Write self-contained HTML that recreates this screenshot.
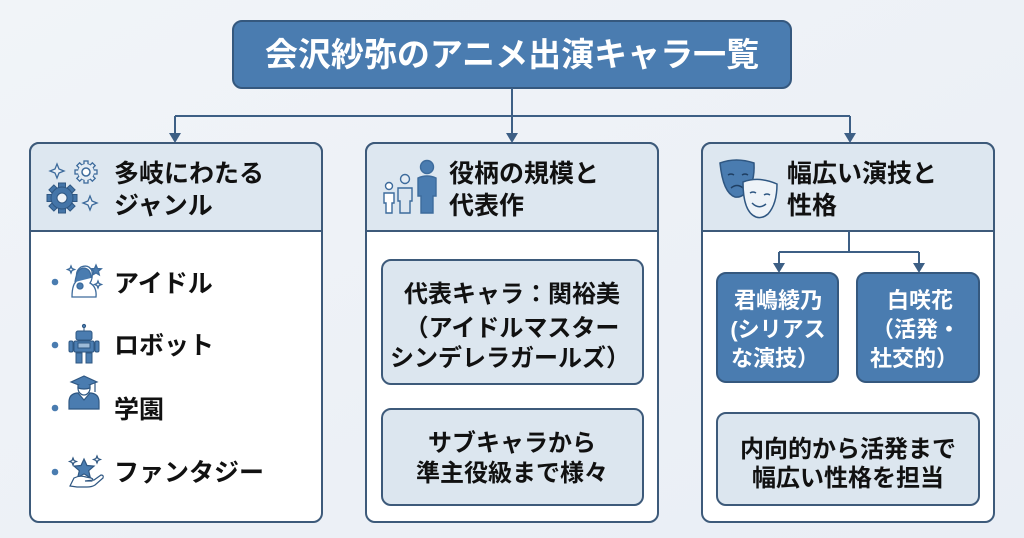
<!DOCTYPE html>
<html><head><meta charset="utf-8">
<style>
html,body{margin:0;padding:0;}
body{width:1024px;height:538px;overflow:hidden;background:#eef2f7;}
svg{display:block;}
text{font-family:"Liberation Sans","Noto Sans CJK JP",sans-serif;}
</style></head>
<body>
<svg width="1024" height="538" viewBox="0 0 1024 538" xmlns="http://www.w3.org/2000/svg">
<defs>
<linearGradient id="bg" x1="0" y1="0" x2="1" y2="1">
<stop offset="0" stop-color="#f1f4f8"/><stop offset="1" stop-color="#e9eef5"/>
</linearGradient>
</defs>
<rect x="0" y="0" width="1024" height="538" fill="url(#bg)"/>

<!-- Title -->
<rect x="233" y="21" width="558" height="67" rx="9" fill="#4a7cb0" stroke="#35587e" stroke-width="2"/>
<text x="512" y="66" text-anchor="middle" font-size="33" font-weight="bold" fill="#ffffff">会沢紗弥のアニメ出演キャラ一覧</text>

<!-- Main connectors -->
<g stroke="#3d5f85" stroke-width="2" fill="none">
<line x1="512" y1="88" x2="512" y2="134"/>
<line x1="175" y1="116" x2="850" y2="116"/>
<line x1="175" y1="116" x2="175" y2="134"/>
<line x1="850" y1="116" x2="850" y2="134"/>
</g>
<g fill="#3d5f85">
<polygon points="169,133 181,133 175,143"/>
<polygon points="506,133 518,133 512,143"/>
<polygon points="844,133 856,133 850,143"/>
</g>

<!-- Columns -->
<g stroke="#3d5a7a" stroke-width="2">
<rect x="30" y="143" width="292" height="379" rx="9" fill="#ffffff"/>
<rect x="366" y="143" width="292" height="379" rx="9" fill="#ffffff"/>
<rect x="702" y="143" width="292" height="379" rx="9" fill="#ffffff"/>
<path d="M30,231 V152 a9,9 0 0 1 9,-9 H313 a9,9 0 0 1 9,9 V231 Z" fill="#dde7f0"/>
<path d="M366,231 V152 a9,9 0 0 1 9,-9 H649 a9,9 0 0 1 9,9 V231 Z" fill="#dde7f0"/>
<path d="M702,231 V152 a9,9 0 0 1 9,-9 H985 a9,9 0 0 1 9,9 V231 Z" fill="#dde7f0"/>
</g>

<!-- Header texts -->
<g font-size="25" font-weight="bold" fill="#111">
<text x="114" y="182">多岐にわたる</text>
<text x="114" y="214">ジャンル</text>
<text x="449" y="182">役柄の規模と</text>
<text x="449" y="214">代表作</text>
<text x="787" y="182">幅広い演技と</text>
<text x="787" y="214">性格</text>
</g>

<!-- Col1 header icon: gears & sparkles -->
<g>
<path d="M57,164 L59,169 L64,171 L59,173 L57,178 L55,173 L50,171 L55,169 Z" fill="#eaf0f6" stroke="#3d6b9c" stroke-width="1.3"/>
<path d="M90,196 L92,201 L97,203 L92,205 L90,210 L88,205 L83,203 L88,201 Z" fill="#eaf0f6" stroke="#3d6b9c" stroke-width="1.3"/>
<g transform="translate(86,172)">
<circle r="8" fill="#e4ecf4" stroke="#3d6b9c" stroke-width="1.5"/>
<g fill="#e4ecf4" stroke="#3d6b9c" stroke-width="1.3">
<rect x="-2" y="-11" width="4" height="4"/><rect x="-2" y="7" width="4" height="4"/>
<rect x="-11" y="-2" width="4" height="4"/><rect x="7" y="-2" width="4" height="4"/>
<rect x="-2" y="-11" width="4" height="4" transform="rotate(45)"/><rect x="-2" y="7" width="4" height="4" transform="rotate(45)"/>
<rect x="-11" y="-2" width="4" height="4" transform="rotate(45)"/><rect x="7" y="-2" width="4" height="4" transform="rotate(45)"/>
</g>
<circle r="8" fill="#e4ecf4"/>
<circle r="4" fill="#fff" stroke="#3d6b9c" stroke-width="1.5"/>
</g>
<g transform="translate(62,198)" fill="#4475a8" stroke="#2f5782" stroke-width="1">
<rect x="-3.5" y="-15" width="7" height="6"/><rect x="-3.5" y="9" width="7" height="6"/>
<rect x="-15" y="-3.5" width="6" height="7"/><rect x="9" y="-3.5" width="6" height="7"/>
<g transform="rotate(45)"><rect x="-3.5" y="-15" width="7" height="6"/><rect x="-3.5" y="9" width="7" height="6"/>
<rect x="-15" y="-3.5" width="6" height="7"/><rect x="9" y="-3.5" width="6" height="7"/></g>
<circle r="11"/>
<circle r="5" fill="#eef3f8"/>
</g>
</g>

<!-- Col2 header icon: people -->
<g stroke="#3d6b9c" stroke-width="1.4">
<circle cx="389" cy="186" r="3.5" fill="#fff"/>
<path d="M384,193 h10 v10 h-2 v10 h-6 v-10 h-2 Z" fill="#fff"/>
<circle cx="405" cy="179" r="4.5" fill="#e4ecf4"/>
<path d="M398,188 h14 v13 h-2 v12 h-10 v-12 h-2 Z" fill="#dce6f0"/>
<circle cx="427" cy="167" r="6.5" fill="#4a7cb0"/>
<path d="M418,178 q9,-4 18,0 v18 h-3 v17 h-12 v-17 h-3 Z" fill="#4a7cb0"/>
</g>

<!-- Col3 header icon: masks -->
<g stroke="#2f5782" stroke-width="1.5">
<path d="M720,163 q16,-6 34,0 q1,20 -8,30 q-6,5 -11,4 q-12,-4 -15,-34 Z" fill="#4a7cb0"/>
<path d="M728,175 q3,-2 6,0 M742,175 q3,-2 6,0 M731,188 q6,-5 12,0" fill="none" stroke="#1f3f63"/>
<path d="M743,182 q16,-6 34,2 q0,20 -9,30 q-6,5 -12,3 q-13,-5 -13,-35 Z" fill="#eef3f8"/>
<path d="M750,193 q3,-2 6,0 M764,195 q3,-2 6,0 M752,203 q7,7 14,1" fill="none"/>
</g>

<!-- Col1 items -->
<g fill="#4a7cb0">
<circle cx="55" cy="282" r="3.3"/>
<circle cx="55" cy="345" r="3.3"/>
<circle cx="55" cy="408" r="3.3"/>
<circle cx="55" cy="472" r="3.3"/>
</g>
<g font-size="25" font-weight="bold" fill="#111">
<text x="114" y="292">アイドル</text>
<text x="114" y="354">ロボット</text>
<text x="114" y="418">学園</text>
<text x="114" y="481">ファンタジー</text>
</g>
<!-- idol icon -->
<g stroke="#3d6b9c" stroke-width="1.3">
<path d="M72,297 q0,-14 6,-17 q-4,-8 3,-13 q8,-3 11,4 q1,8 -2,12 q7,4 6,14 Z" fill="#fff"/>
<path d="M75,282 q2,-14 9,-14 q7,1 7,10" fill="#4a7cb0"/>
<circle cx="80" cy="286" r="3" fill="#4a7cb0"/>
<path d="M96,265 l1.5,3.5 l3.8,0.3 l-2.9,2.4 l0.9,3.7 l-3.3,-2 l-3.3,2 l0.9,-3.7 l-2.9,-2.4 l3.8,-0.3 Z" fill="#4a7cb0"/>
<path d="M71,266 l1,2.5 l2.5,1 l-2.5,1 l-1,2.5 l-1,-2.5 l-2.5,-1 l2.5,-1 Z" fill="#fff"/>
<path d="M98,281 l1,2.5 l2.5,1 l-2.5,1 l-1,2.5 l-1,-2.5 l-2.5,-1 l2.5,-1 Z" fill="#fff"/>
</g>
<!-- robot icon -->
<g fill="#4a7cb0" stroke="#2f5782" stroke-width="1">
<line x1="84" y1="327" x2="84" y2="331"/><circle cx="84" cy="326" r="1.6"/>
<rect x="76" y="331" width="16" height="9" rx="2"/>
<rect x="74" y="341" width="20" height="11" rx="1.5"/>
<rect x="78" y="343" width="12" height="5" fill="#9dbbd8"/>
<rect x="69" y="341" width="4" height="11" rx="1.5"/><rect x="95" y="341" width="4" height="11" rx="1.5"/>
<rect x="76" y="353" width="6" height="10"/><rect x="86" y="353" width="6" height="10"/>
</g>
<!-- graduate icon -->
<g stroke="#2f5782" stroke-width="1.2">
<path d="M69,402 q0,-8 8,-9 h14 q8,1 8,9 v7 h-30 Z" fill="#4a7cb0"/>
<path d="M78,393 l6,7 l6,-7" fill="#fff"/>
<ellipse cx="84" cy="388" rx="6" ry="7" fill="#fff"/>
<path d="M71,382 l13,-6 l13,6 l-13,5 Z" fill="#4a7cb0"/>
<path d="M78,385 v3 q6,2 12,0 v-3" fill="#4a7cb0"/>
<line x1="95" y1="383" x2="95" y2="392"/>
</g>
<!-- fantasy icon -->
<g stroke="#2f5782" stroke-width="1.2">
<path d="M84,459 l3,6.5 l7,0.6 l-5.3,4.6 l1.6,6.9 l-6.3,-3.7 l-6.3,3.7 l1.6,-6.9 l-5.3,-4.6 l7,-0.6 Z" fill="#4a7cb0"/>
<path d="M70,486 l4,-8 q6,-3 12,-1 l5,1 q3,1 1,3 l-7,0 l9,-1 l7,-5 q3,0 2,3 l-8,7 q-3,2 -8,2 h-10 Z" fill="#fff"/>
<path d="M73,458 l1,2.5 l2.5,1 l-2.5,1 l-1,2.5 l-1,-2.5 l-2.5,-1 l2.5,-1 Z" fill="#fff"/>
<path d="M97,456 l1,2.5 l2.5,1 l-2.5,1 l-1,2.5 l-1,-2.5 l-2.5,-1 l2.5,-1 Z" fill="#fff"/>
</g>

<!-- Col2 inner boxes -->
<g stroke="#3d5a7a" stroke-width="2" fill="#dce6ef">
<rect x="382" y="260" width="261" height="124" rx="9"/>
<rect x="382" y="409" width="261" height="96" rx="9"/>
</g>
<g font-size="24" font-weight="bold" fill="#111" text-anchor="middle">
<text x="512" y="302">代表キャラ：関裕美</text>
<text x="512" y="336">（アイドルマスター</text>
<text x="510" y="366">シンデレラガールズ）</text>
<text x="512" y="451">サブキャラから</text>
<text x="512" y="481">準主役級まで様々</text>
</g>

<!-- Col3 inner connectors -->
<g stroke="#3d5f85" stroke-width="2" fill="none">
<line x1="849" y1="231" x2="849" y2="252"/>
<line x1="779" y1="252" x2="919" y2="252"/>
<line x1="779" y1="252" x2="779" y2="264"/>
<line x1="919" y1="252" x2="919" y2="264"/>
</g>
<g fill="#3d5f85">
<polygon points="773,263 785,263 779,273"/>
<polygon points="913,263 925,263 919,273"/>
</g>
<g stroke="#35587e" stroke-width="2" fill="#4a7cb0">
<rect x="717" y="273" width="121" height="109" rx="9"/>
<rect x="857" y="273" width="122" height="109" rx="9"/>
</g>
<g font-size="22" font-weight="bold" fill="#ffffff" text-anchor="middle">
<text x="778" y="308">君嶋綾乃</text>
<text x="778" y="337">(シリアス</text>
<text x="775" y="366">な演技）</text>
<text x="920" y="308">白咲花</text>
<text x="916" y="337">（活発・</text>
<text x="914" y="366">社交的）</text>
</g>
<rect x="717" y="413" width="262" height="92" rx="9" fill="#dce6ef" stroke="#3d5a7a" stroke-width="2"/>
<g font-size="24" font-weight="bold" fill="#111" text-anchor="middle">
<text x="848" y="457">内向的から活発まで</text>
<text x="848" y="486">幅広い性格を担当</text>
</g>
</svg>
</body></html>
